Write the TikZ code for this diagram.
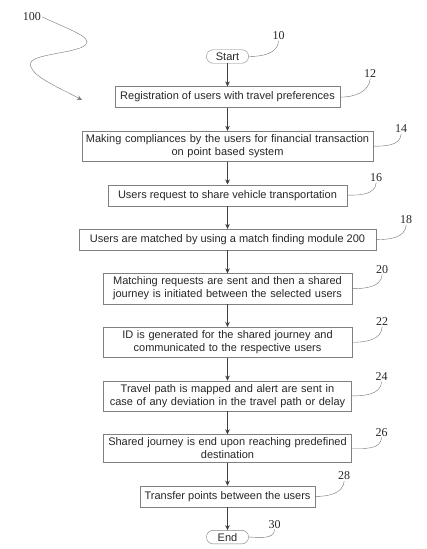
\documentclass[tikz,border=0pt]{standalone}
\usepackage{fontspec}
\setmainfont{Liberation Sans}
\newfontfamily\refserif{Liberation Serif}
\usetikzlibrary{arrows.meta}
\usetikzlibrary{positioning}

\tikzset{
  stepbox/.style={draw=black!50, text=black!85, align=center, minimum height=21pt,
    inner xsep=3pt, inner ysep=3.5pt, font=\fontsize{11}{13}\selectfont},
  termbox/.style={stepbox, rounded corners=6.5pt, minimum height=13.5pt,
    minimum width=42pt, inner ysep=0pt},
  refno/.style={font=\refserif\fontsize{12}{12}\selectfont, text=black!85, inner sep=1pt},
  flow/.style={draw=black!75, -{Stealth[length=5pt,width=4.5pt]}},
  leader/.style={draw=black!55},
}

\begin{document}
\begin{tikzpicture}[x=1pt, y=1pt, node distance=23pt]
  \useasboundingbox (0,0) rectangle (427,-549);

  \node[termbox] (start) at (227.5,-56.5) {Start};
  \node[stepbox, minimum width=225pt, below=of start] (reg) {Registration of users with travel preferences};
  \node[stepbox, text width=285pt, below=of reg] (comply) {Making compliances by the users for financial transaction\\ on point based system};
  \node[stepbox, minimum width=239pt, below=of comply] (request) {Users request to share vehicle transportation};
  \node[stepbox, minimum width=297pt, below=of request] (match) {Users are matched by using a match finding module 200};
  \node[stepbox, text width=243pt, below=of match] (initiate) {Matching requests are sent and then a shared\\ journey is initiated between the selected users};
  \node[stepbox, text width=243pt, below=of initiate] (idgen) {ID is generated for the shared journey and\\ communicated to the respective users};
  \node[stepbox, text width=242pt, below=of idgen] (track) {Travel path is mapped and alert are sent in\\ case of any deviation in the travel path or delay};
  \node[stepbox, text width=242pt, below=of track] (finish) {Shared journey is end upon reaching predefined\\ destination};
  \node[stepbox, minimum width=175pt, below=of finish] (transfer) {Transfer points between the users};
  \node[termbox, below=of transfer] (stop) {End};

  % reference numbers
  \node[refno] (l100) at (32,-17) {100};
  \node[refno] (l10) at ([shift={(30pt,14pt)}]start.north east) {10};
  \node[refno] (l12) at ([shift={(30pt,13pt)}]reg.north east) {12};
  \node[refno] (l14) at ([shift={(28pt,2pt)}]comply.north east) {14};
  \node[refno] (l16) at ([shift={(29pt,7pt)}]request.north east) {16};
  \node[refno] (l18) at ([shift={(30pt,9pt)}]match.north east) {18};
  \node[refno] (l20) at ([shift={(30pt,4pt)}]initiate.north east) {20};
  \node[refno] (l22) at ([shift={(30pt,5pt)}]idgen.north east) {22};
  \node[refno] (l24) at ([shift={(30pt,4pt)}]track.north east) {24};
  \node[refno] (l26) at ([shift={(30pt,2pt)}]finish.north east) {26};
  \node[refno] (l28) at ([shift={(29pt,10pt)}]transfer.north east) {28};
  \node[refno] (l30) at ([shift={(26pt,6pt)}]stop.north east) {30};

  \draw[flow] (start) -- (reg);
  \draw[flow] (reg) -- (comply);
  \draw[flow] (comply) -- (request);
  \draw[flow] (request) -- (match);
  \draw[flow] (match) -- (initiate);
  \draw[flow] (initiate) -- (idgen);
  \draw[flow] (idgen) -- (track);
  \draw[flow] (track) -- (finish);
  \draw[flow] (finish) -- (transfer);
  \draw[flow] (transfer) -- (stop);

  \foreach \b/\l in {start/l10, reg/l12, comply/l14, request/l16, match/l18,
      initiate/l20, idgen/l22, track/l24, finish/l26, transfer/l28, stop/l30}
    \draw[leader] (\b.east) to[out=0, in=-95] (\l.south);

  \coordinate (fig) at (82,-100);
  \draw[leader, -{Stealth[length=5pt,width=4.5pt]}] (l100.east)
    .. controls (75,-32) and (100,-40) .. (80,-48)
    .. controls (60,-55) and (25,-55) .. (31,-67)
    .. controls (35,-78) and (60,-88) .. (fig);
\end{tikzpicture}
\end{document}
